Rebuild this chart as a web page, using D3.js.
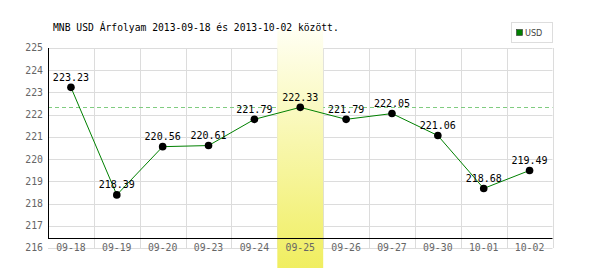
<!DOCTYPE html>
<html>
<head>
<meta charset="utf-8">
<script src="https://cdn.jsdelivr.net/npm/d3@7"></script>
<style>
  body { margin: 0; background: #fff; }
  svg { display: block; }
</style>
</head>
<body>
<script>
// MNB USD rates
var dates = ['09-18','09-19','09-20','09-23','09-24','09-25','09-26','09-27','09-30','10-01','10-02'];
var rates = [223.23, 218.39, 220.56, 220.61, 221.79, 222.33, 221.79, 222.05, 221.06, 218.68, 219.49];
var yTicks = [216, 217, 218, 219, 220, 221, 222, 223, 224, 225];
var highlight = '09-25';
var title = 'MNB USD Árfolyam 2013-09-18 és 2013-10-02 között.';
var seriesName = 'USD';

var mono = 'DejaVu Sans Mono, monospace';

var svg = d3.select('body').append('svg').attr('width', 600).attr('height', 270)

var x = d3.scaleBand().domain(dates).range([48, 552.5])
var y = d3.scaleLinear().domain([216, 225]).range([248, 48])

// gradient for highlighted day
var grad = svg.append('defs').append('linearGradient')
  .attr('id', 'hl').attr('x1', 0).attr('y1', 0).attr('x2', 0).attr('y2', 1)
grad.append('stop').attr('offset', '0%').attr('stop-color', '#fffff2')
grad.append('stop').attr('offset', '100%').attr('stop-color', '#f0ee60')

// grid
var grid = svg.append('g')
grid.selectAll('line.h')
  .data(yTicks)
  .enter().append('line')
    .attr('class', 'h')
    .attr('x1', 48).attr('x2', 552.5)
    .attr('y1', d => Math.round(y(d)) + 0.5).attr('y2', d => Math.round(y(d)) + 0.5)
    .attr('stroke', '#dcdcdc')
grid.selectAll('line.v')
  .data(dates.slice(1).concat(['end']))
  .enter().append('line')
    .attr('class', 'v')
    .attr('x1', (d, i) => Math.round(48 + (i + 1) * x.bandwidth()) + 0.5)
    .attr('x2', (d, i) => Math.round(48 + (i + 1) * x.bandwidth()) + 0.5)
    .attr('y1', 48).attr('y2', 248)
    .attr('stroke', '#dcdcdc')

// dashed reference line at highlighted value
var hlValue = rates[dates.indexOf(highlight)]
svg.append('line')
  .attr('x1', 48).attr('x2', 552.5)
  .attr('y1', Math.round(y(hlValue)) + 0.5).attr('y2', Math.round(y(hlValue)) + 0.5)
  .attr('stroke', '#80cc80')
  .attr('stroke-dasharray', '4,3')

// highlight band
svg.append('rect')
  .attr('x', x(highlight)).attr('width', x.bandwidth())
  .attr('y', 30).attr('height', 238)
  .attr('fill', 'url(#hl)')

// axes lines
svg.append('line').attr('x1', 48.5).attr('x2', 48.5).attr('y1', 48).attr('y2', 238.5)
  .attr('stroke', '#000')
svg.append('line').attr('x1', 48).attr('x2', 552.5).attr('y1', 238.5).attr('y2', 238.5)
  .attr('stroke', '#000')

// y labels
svg.selectAll('text.yl')
  .data(yTicks)
  .enter().append('text')
    .attr('class', 'yl')
    .attr('x', 43).attr('y', d => y(d))
    .attr('dy', '0.35em')
    .attr('text-anchor', 'end')
    .attr('font-family', mono).attr('font-size', '9.8px')
    .attr('fill', '#666')
    .text(d => d)

// x labels
svg.selectAll('text.xl')
  .data(dates)
  .enter().append('text')
    .attr('class', 'xl')
    .attr('x', d => x(d) + x.bandwidth() / 2).attr('y', 248)
    .attr('dy', '0.35em')
    .attr('text-anchor', 'middle')
    .attr('font-family', mono).attr('font-size', '9.8px')
    .attr('fill', '#666')
    .text(d => d)

// line
var line = d3.line()
  .x((d, i) => x(dates[i]) + x.bandwidth() / 2)
  .y(d => y(d))
svg.append('path')
  .attr('fill', 'none')
  .attr('stroke', '#008000')
  .attr('stroke-width', 1)
  .attr('d', line(rates))

svg.selectAll('circle')
  .data(rates)
  .enter().append('circle')
    .attr('cx', (d, i) => x(dates[i]) + x.bandwidth() / 2)
    .attr('cy', d => y(d))
    .attr('r', 3.8)
    .attr('fill', '#000')

svg.selectAll('text.vl')
  .data(rates)
  .enter().append('text')
    .attr('class', 'vl')
    .attr('x', (d, i) => x(dates[i]) + x.bandwidth() / 2)
    .attr('y', d => y(d) - 6.5)
    .attr('text-anchor', 'middle')
    .attr('font-family', mono).attr('font-size', '10px')
    .attr('fill', '#000')
    .text(d => d.toFixed(2))

// title
svg.append('text')
  .attr('x', 53).attr('y', 31)
  .attr('font-family', mono).attr('font-size', '9.7px')
  .attr('fill', '#000')
  .text(title)

// legend
var lg = svg.append('g')
lg.append('rect').attr('x', 511.5).attr('y', 22.5).attr('width', 41).attr('height', 20)
  .attr('fill', '#fff').attr('stroke', '#ddd')
lg.append('rect').attr('x', 516.5).attr('y', 29.5).attr('width', 6).attr('height', 6)
  .attr('fill', '#008000').attr('stroke', '#333').attr('stroke-width', 0.6)
lg.append('text').attr('x', 525).attr('y', 36)
  .attr('font-family', 'Liberation Sans Narrow, DejaVu Sans Condensed, sans-serif')
  .attr('font-size', '9px').attr('fill', '#444')
  .text(seriesName)
</script>
</body>
</html>
